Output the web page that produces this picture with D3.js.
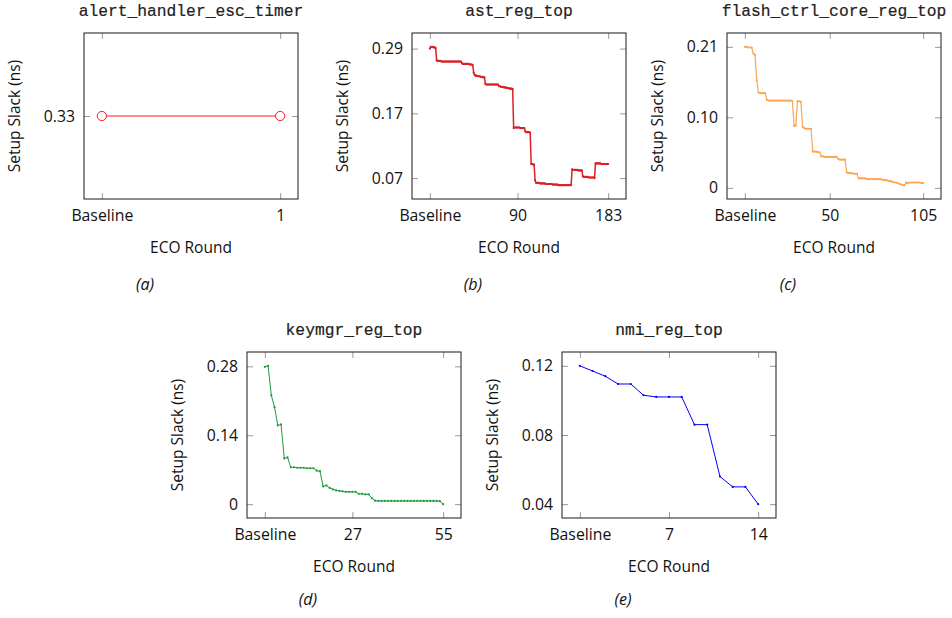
<!DOCTYPE html>
<html>
<head>
<meta charset="utf-8">
<script src="https://cdn.jsdelivr.net/npm/d3@7"></script>
<style>
    body { margin: 0; background: #fff; }
    svg { display: block; }
</style>
</head>
<body>
<script>
// setup slack per ECO round (ns)
var alertSlack = [0.33, 0.33];

var astSlack = [
    0.290, 0.293, 0.293, 0.293, 0.292, 0.292, 0.291, 0.270,
    0.269, 0.269, 0.269, 0.269, 0.268, 0.268, 0.268, 0.268, 0.268, 0.268,
    0.268, 0.268, 0.268, 0.268, 0.268, 0.268, 0.268, 0.268, 0.268, 0.268,
    0.268, 0.268, 0.268, 0.268, 0.268,
    0.265, 0.264, 0.264, 0.264, 0.264, 0.264, 0.264, 0.264, 0.263, 0.263, 0.263, 0.262,
    0.249,
    0.245, 0.244, 0.244, 0.243, 0.243, 0.243, 0.242, 0.242, 0.242, 0.241, 0.241,
    0.230, 0.229, 0.229, 0.229, 0.229, 0.229, 0.229, 0.229, 0.229, 0.229, 0.229, 0.229, 0.229, 0.229,
    0.226, 0.226, 0.225, 0.225, 0.225, 0.224, 0.224, 0.224, 0.223, 0.223, 0.223, 0.222, 0.222, 0.222, 0.221,
    0.155, 0.156, 0.156, 0.156, 0.156, 0.156, 0.156, 0.155, 0.155, 0.155, 0.155, 0.155,
    0.149, 0.148, 0.148, 0.148, 0.148, 0.147,
    0.094, 0.094, 0.093, 0.093,
    0.066,
    0.062, 0.062, 0.062, 0.062, 0.061, 0.061, 0.061, 0.061, 0.061, 0.061,
    0.060, 0.060, 0.060, 0.060, 0.060, 0.060, 0.060, 0.059, 0.059, 0.059,
    0.059, 0.059, 0.059, 0.058, 0.058, 0.058, 0.058, 0.058, 0.058, 0.058,
    0.058, 0.058, 0.058, 0.058, 0.058, 0.058, 0.058,
    0.085, 0.084, 0.084, 0.084, 0.084, 0.084, 0.083, 0.083, 0.083, 0.083, 0.083,
    0.073, 0.072, 0.072, 0.072, 0.072, 0.072, 0.071, 0.071, 0.071, 0.071, 0.071, 0.071, 0.070,
    0.095, 0.095, 0.095, 0.095, 0.095, 0.095, 0.094, 0.094, 0.094, 0.094, 0.094, 0.094, 0.094, 0.094
];

var flashSlack = [
    0.210, 0.210, 0.209, 0.209, 0.209, 0.200, 0.198, 0.160, 0.142, 0.141,
    0.141, 0.141, 0.141, 0.131,
    0.130, 0.130, 0.130, 0.130, 0.130, 0.130, 0.130, 0.130, 0.130, 0.130, 0.130, 0.130, 0.130, 0.130,
    0.129, 0.092, 0.093, 0.129, 0.129, 0.128, 0.091, 0.089, 0.088, 0.088, 0.088, 0.088,
    0.054, 0.054, 0.054, 0.053, 0.053,
    0.047, 0.047, 0.046, 0.046, 0.046, 0.046, 0.046, 0.046, 0.046, 0.046,
    0.043, 0.042, 0.042, 0.042, 0.042,
    0.023, 0.022, 0.022, 0.022, 0.021, 0.021, 0.021,
    0.014,
    0.014, 0.014, 0.014, 0.014, 0.013, 0.013, 0.013, 0.013, 0.013, 0.013, 0.013, 0.013, 0.013,
    0.012, 0.012, 0.011, 0.011, 0.010, 0.010, 0.009, 0.008, 0.008, 0.007, 0.006, 0.005, 0.004, 0.004,
    0.008, 0.007, 0.008, 0.008, 0.008, 0.008, 0.008, 0.008, 0.008, 0.007, 0.007
];

var keymgrSlack = [
    0.279, 0.281, 0.221, 0.197, 0.160, 0.162, 0.093, 0.095, 0.075, 0.075,
    0.074, 0.074, 0.074, 0.073, 0.073, 0.073, 0.068, 0.067, 0.036, 0.038,
    0.033, 0.030, 0.028, 0.027, 0.026, 0.025, 0.025, 0.025, 0.025, 0.021,
    0.021, 0.020, 0.020, 0.012, 0.007, 0.0065, 0.0065, 0.0065, 0.0065, 0.0065,
    0.0065, 0.0065, 0.0065, 0.0065, 0.0065, 0.0065, 0.0065, 0.0065, 0.0065, 0.0065,
    0.0065, 0.0065, 0.0065, 0.0065, 0.006, 0.000
];

var nmiSlack = [
    0.120, 0.117, 0.114, 0.1095, 0.1095, 0.103, 0.102, 0.102, 0.102, 0.086,
    0.086, 0.056, 0.050, 0.050, 0.040
];

// ticks
var alertXTicks = [0, 1],    alertXLabels = ["Baseline", "1"];
var astXTicks = [0, 90, 183], astXLabels = ["Baseline", "90", "183"];
var flashXTicks = [0, 50, 105], flashXLabels = ["Baseline", "50", "105"];
var keymgrXTicks = [0, 27, 55], keymgrXLabels = ["Baseline", "27", "55"];
var nmiXTicks = [0, 7, 14],  nmiXLabels = ["Baseline", "7", "14"];

var alertYTicks = [0.33],             alertYLabels = ["0.33"];
var astYTicks = [0.07, 0.18, 0.29],   astYLabels = ["0.07", "0.17", "0.29"];
var flashYTicks = [0, 0.105, 0.21],   flashYLabels = ["0", "0.10", "0.21"];
var keymgrYTicks = [0, 0.14, 0.28],   keymgrYLabels = ["0", "0.14", "0.28"];
var nmiYTicks = [0.04, 0.08, 0.12],   nmiYLabels = ["0.04", "0.08", "0.12"];

var width = 952, height = 618;
var boxW = 214, boxH = 166;
var tickLen = 6;
var sans = "'Open Sans', 'DejaVu Sans', sans-serif";
var mono = "'Liberation Mono', 'DejaVu Sans Mono', monospace";

var panels = [
    {title: "alert_handler_esc_timer", cap: "(a)", values: alertSlack, xt: alertXTicks, xl: alertXLabels,
        yt: alertYTicks, yl: alertYLabels, color: "#ff1a1a", lw: 1, left: 84, top: 33, capY: 290, open: true},
    {title: "ast_reg_top", cap: "(b)", values: astSlack, xt: astXTicks, xl: astXLabels,
        yt: astYTicks, yl: astYLabels, color: "#dc1f26", lw: 1.5, left: 412, top: 33, capY: 290},
    {title: "flash_ctrl_core_reg_top", cap: "(c)", values: flashSlack, xt: flashXTicks, xl: flashXLabels,
        yt: flashYTicks, yl: flashYLabels, color: "#fca652", lw: 1.2, left: 727, top: 33, capY: 290},
    {title: "keymgr_reg_top", cap: "(d)", values: keymgrSlack, xt: keymgrXTicks, xl: keymgrXLabels,
        yt: keymgrYTicks, yl: keymgrYLabels, color: "#1e9a3c", lw: 1, left: 247, top: 352, capY: 605},
    {title: "nmi_reg_top", cap: "(e)", values: nmiSlack, xt: nmiXTicks, xl: nmiXLabels,
        yt: nmiYTicks, yl: nmiYLabels, color: "#0000ff", lw: 1, left: 562, top: 352, capY: 605}
];

var svg = d3.select("body").append("svg")
    .attr("width", width)
    .attr("height", height);

var styleAxis = function (sel) {
    sel.select(".domain").remove();
    sel.selectAll(".tick line").attr("stroke", "#9a9a9a");
    sel.selectAll("text")
        .attr("fill", "#111")
        .style("font-family", sans)
        .style("font-size", "15.8px");
};

panels.forEach(function (p) {
    var n = p.values.length - 1;
    var x = d3.scaleLinear()
        .domain([-0.1 * n, 1.1 * n])
        .range([p.left, p.left + boxW]);

    var ext = d3.extent(p.values);
    var pad = ext[1] > ext[0] ? 0.1 * (ext[1] - ext[0]) : 0.01;
    var y = d3.scaleLinear()
        .domain([ext[0] - pad, ext[1] + pad])
        .range([p.top + boxH, p.top]);

    var g = svg.append("g");

    // ticks on all four sides, pointing inward
    g.append("g")
        .attr("transform", "translate(0," + (p.top + boxH) + ")")
        .call(d3.axisBottom(x).tickValues(p.xt).tickSizeInner(-tickLen).tickSizeOuter(0).tickPadding(11)
            .tickFormat(function (d, i) { return p.xl[i]; }))
        .call(styleAxis);
    g.append("g")
        .attr("transform", "translate(0," + p.top + ")")
        .call(d3.axisTop(x).tickValues(p.xt).tickSizeInner(-tickLen).tickSizeOuter(0).tickFormat(""))
        .call(styleAxis);
    g.append("g")
        .attr("transform", "translate(" + p.left + ",0)")
        .call(d3.axisLeft(y).tickValues(p.yt).tickSizeInner(-tickLen).tickSizeOuter(0).tickPadding(9)
            .tickFormat(function (d, i) { return p.yl[i]; }))
        .call(styleAxis);
    g.append("g")
        .attr("transform", "translate(" + (p.left + boxW) + ",0)")
        .call(d3.axisRight(y).tickValues(p.yt).tickSizeInner(-tickLen).tickSizeOuter(0).tickFormat(""))
        .call(styleAxis);

    // frame
    g.append("rect")
        .attr("x", p.left)
        .attr("y", p.top)
        .attr("width", boxW)
        .attr("height", boxH)
        .attr("fill", "none")
        .attr("stroke", "#1a1a1a")
        .attr("stroke-width", 1);

    var line = d3.line()
        .x(function (d, i) { return x(i); })
        .y(function (d) { return y(d); });

    g.append("path")
        .datum(p.values)
        .attr("d", line)
        .attr("fill", "none")
        .attr("stroke", p.color)
        .attr("stroke-width", p.lw)
        .attr("stroke-linejoin", "round");

    g.selectAll(".pt")
        .data(p.values)
        .enter().append("circle")
        .attr("class", "pt")
        .attr("cx", function (d, i) { return x(i); })
        .attr("cy", function (d) { return y(d); })
        .attr("r", p.open ? 4.6 : 1.1)
        .attr("fill", p.open ? "#fff" : p.color)
        .attr("stroke", p.open ? p.color : "none")
        .attr("stroke-width", 1);

    var cx = p.left + boxW / 2;

    // title
    g.append("text")
        .attr("x", cx)
        .attr("y", p.top - 17)
        .attr("text-anchor", "middle")
        .style("font-family", mono)
        .style("font-size", "16.3px")
        .attr("fill", "#222")
        .attr("stroke", "#222")
        .attr("stroke-width", 0.2)
        .text(p.title);

    // axis labels
    g.append("text")
        .attr("x", cx)
        .attr("y", p.top + boxH + 54)
        .attr("text-anchor", "middle")
        .style("font-family", sans)
        .style("font-size", "15.5px")
        .attr("fill", "#111")
        .text("ECO Round");

    g.append("text")
        .attr("transform", "translate(" + (p.left - 64) + "," + (p.top + boxH / 2) + ") rotate(-90)")
        .attr("text-anchor", "middle")
        .style("font-family", sans)
        .style("font-size", "15.5px")
        .attr("fill", "#111")
        .text("Setup Slack (ns)");

    // sub caption
    g.append("text")
        .attr("x", cx - 46)
        .attr("y", p.capY)
        .attr("text-anchor", "middle")
        .style("font-family", sans)
        .style("font-size", "16px")
        .style("font-style", "italic")
        .attr("fill", "#111")
        .text(p.cap);
});
</script>
</body>
</html>
